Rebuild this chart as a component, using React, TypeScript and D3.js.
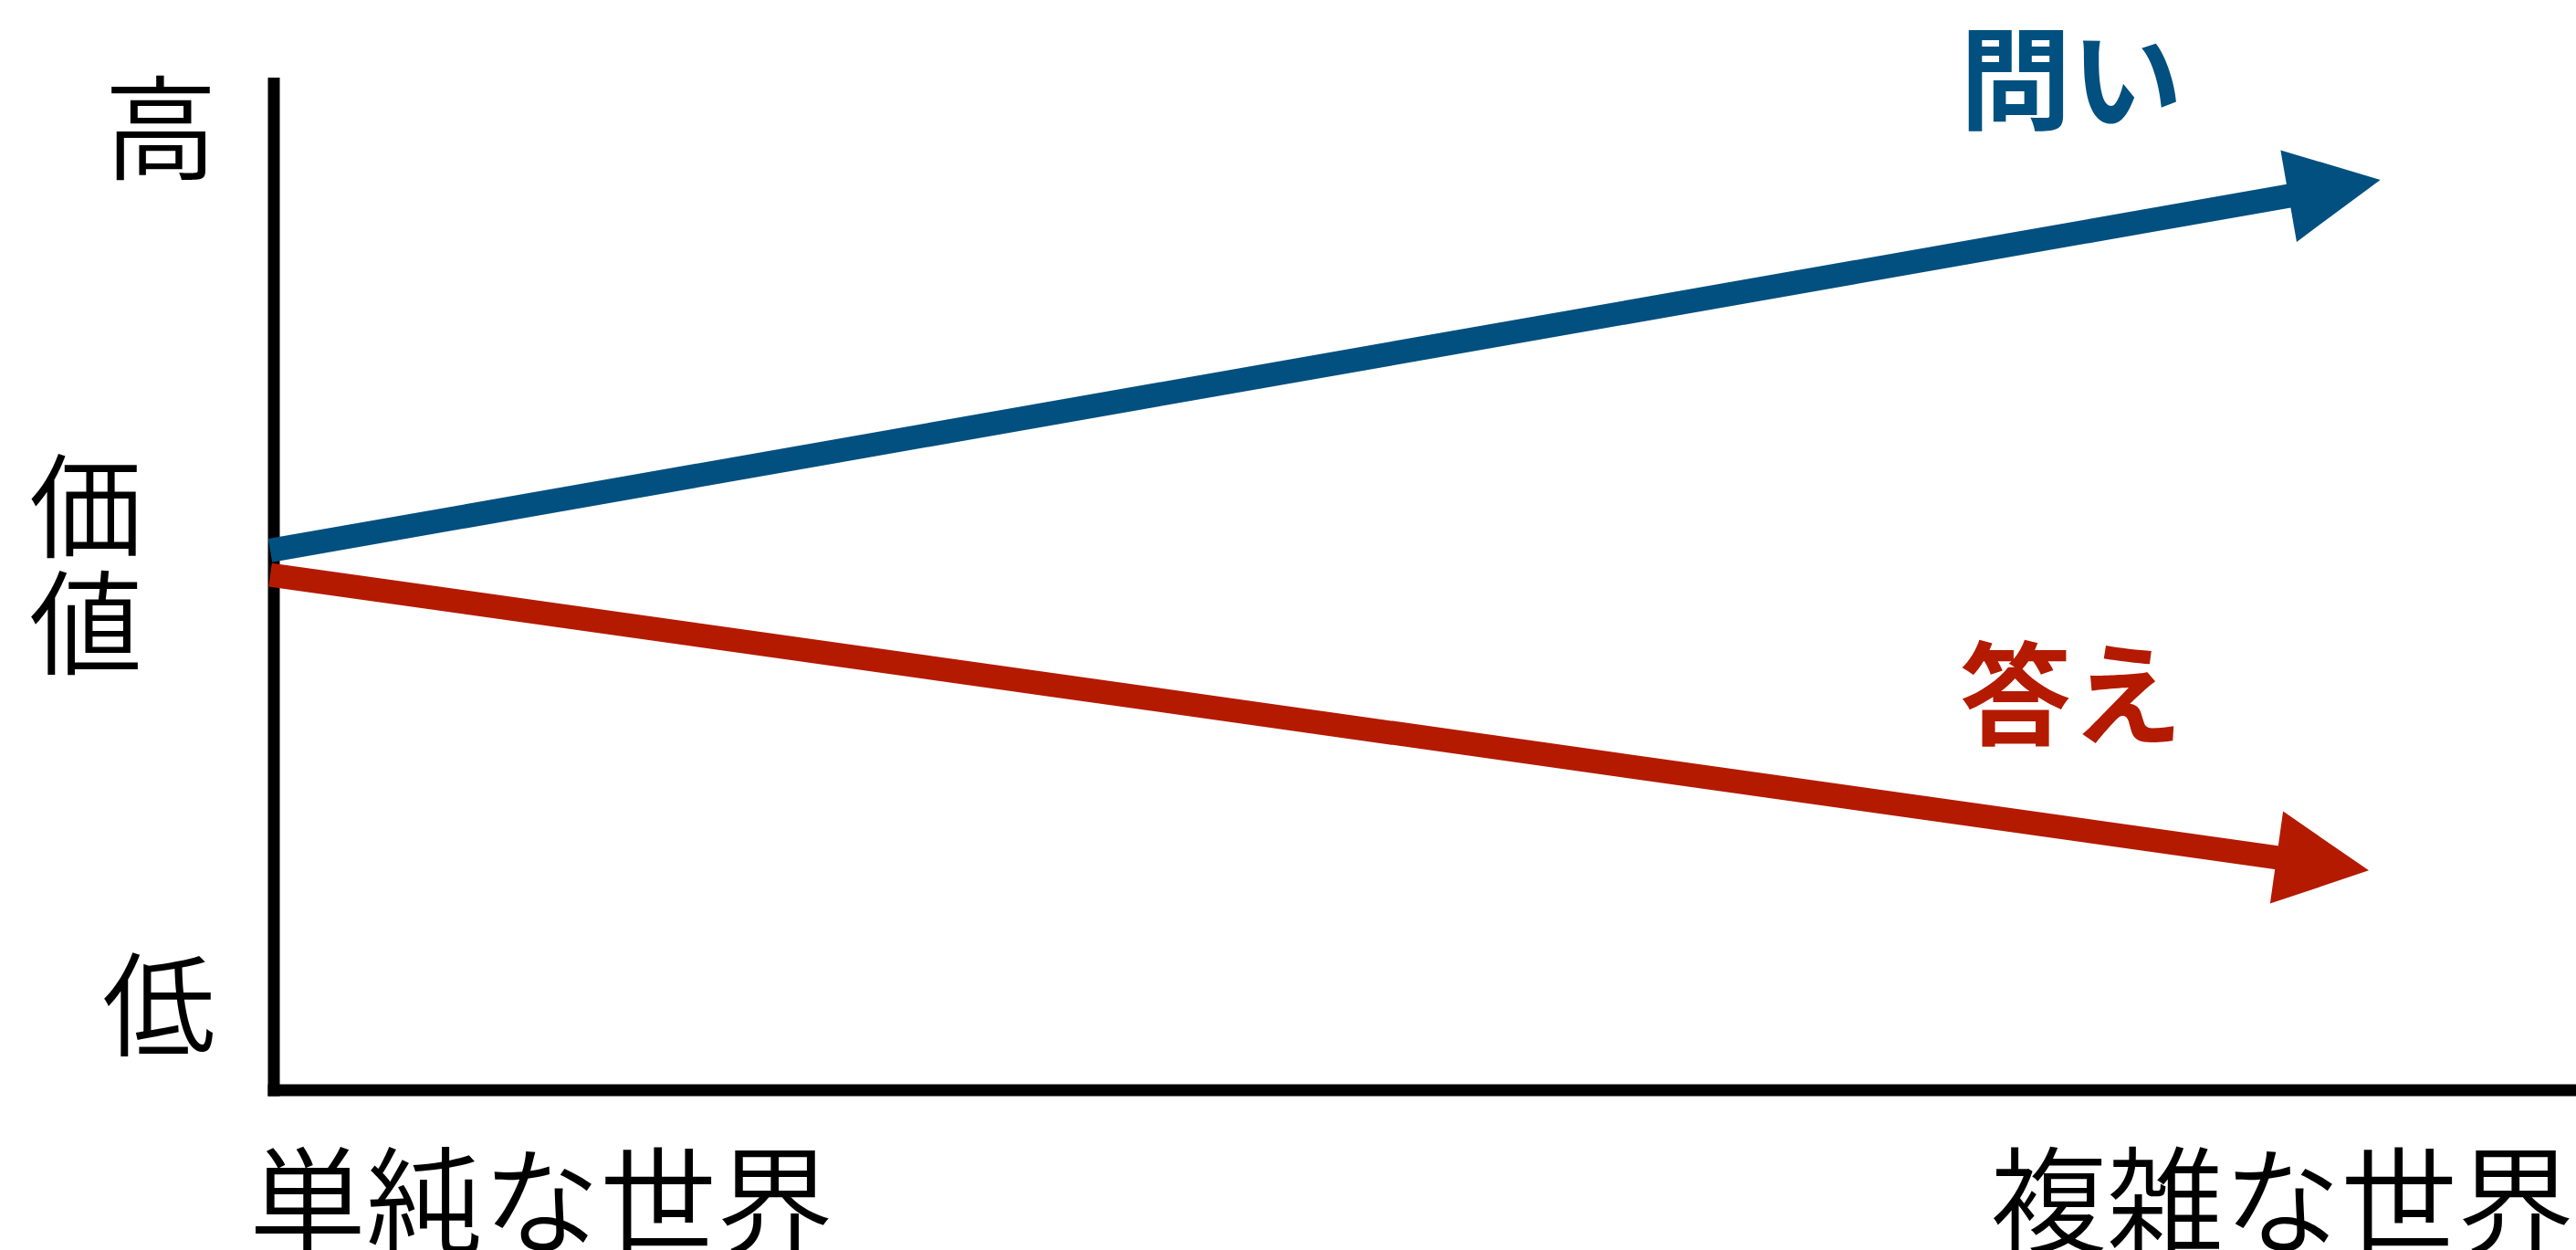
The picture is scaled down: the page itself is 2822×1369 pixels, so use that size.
import React from "react";
import * as d3 from "d3";

// ---- data ----
const yTickLabels = [
  { value: 100, label: "高" },
  { value: 50, label: "価値" },
  { value: 0, label: "低" },
];
const xCategoryLabels = ["単純な世界", "複雑な世界"];
const seriesNames = ["問い", "答え"];
const seriesStart = [53.3, 50.9]; // value at the simple end (x = 0)
const seriesEndX = [91.5, 91.0]; // arrow tip position along the axis
const seriesEnd = [89.9, 21.7]; // arrow tip value
const seriesColors = ["#02507F", "#B41A00"];

const W = 2822;
const H = 1369;
const FONT = "'Noto Sans CJK JP', 'Noto Sans CJK SC', sans-serif";

export default function App() {
  const x = d3.scaleLinear().domain([0, 100]).range([300, 2822]);
  const y = d3.scaleLinear().domain([0, 100]).range([1194, 85]);
  const axisW = 13;
  const lineW = 26;
  const headLen = 102;
  const headHalf = 51;
  const fs = 124;

  const arrows = seriesNames.map((name, i) => {
    const x0 = x(0) - 4;
    const y0 = y(seriesStart[i]);
    const tx = x(seriesEndX[i]);
    const ty = y(seriesEnd[i]);
    const dx = tx - x0;
    const dy = ty - y0;
    const len = Math.hypot(dx, dy);
    const ux = dx / len;
    const uy = dy / len;
    const nx = -uy;
    const ny = ux;
    const bx = tx - headLen * ux;
    const by = ty - headLen * uy;
    const line = d3.line()([
      [x0, y0],
      [bx + 3 * ux, by + 3 * uy],
    ]);
    const head =
      d3.line()([
        [tx, ty],
        [bx + headHalf * nx, by + headHalf * ny],
        [bx - headHalf * nx, by - headHalf * ny],
      ]) + "Z";
    return { name, line, head, color: seriesColors[i] };
  });

  // label positions
  const labelPos = [
    { x: 2147, y: 132 },
    { x: 2147, y: 806 },
  ];
  const midChars = Array.from(yTickLabels[1].label);

  return (
    <svg
      width={W}
      height={H}
      style={{ position: "absolute", left: 0, top: 0, display: "block", background: "#fff" }}
    >
      <rect x={0} y={0} width={W} height={H} fill="#fff" />
      {/* axes */}
      <line
        x1={x(0)}
        x2={x(0)}
        y1={y(100)}
        y2={y(0) + axisW / 2}
        stroke="#000"
        strokeWidth={axisW}
      />
      <line
        x1={x(0) - axisW / 2}
        x2={x(100)}
        y1={y(0)}
        y2={y(0)}
        stroke="#000"
        strokeWidth={axisW}
      />
      {/* arrows */}
      {arrows.map((a) => (
        <g key={a.name}>
          <path d={a.line ?? ""} stroke={a.color} strokeWidth={lineW} fill="none" />
          <path d={a.head} fill={a.color} />
        </g>
      ))}
      {/* series labels */}
      {arrows.map((a, i) => (
        <text
          key={"l" + a.name}
          x={labelPos[i].x}
          y={labelPos[i].y}
          fill={a.color}
          fontFamily={FONT}
          fontWeight={700}
          fontSize={122}
        >
          {a.name}
        </text>
      ))}
      {/* y labels */}
      <text x={176} y={187} textAnchor="middle" fontFamily={FONT} fontWeight={350} fontSize={fs}>
        {yTickLabels[0].label}
      </text>
      {midChars.map((ch, k) => (
        <text
          key={"m" + k}
          x={94}
          y={601 + k * 128}
          textAnchor="middle"
          fontFamily={FONT}
          fontWeight={350}
          fontSize={fs}
        >
          {ch}
        </text>
      ))}
      <text x={174} y={1147} textAnchor="middle" fontFamily={FONT} fontWeight={350} fontSize={fs}>
        {yTickLabels[2].label}
      </text>
      {/* x category labels */}
      <text x={273} y={1364} fontFamily={FONT} fontWeight={350} fontSize={128}>
        {xCategoryLabels[0]}
      </text>
      <text x={2820} y={1364} textAnchor="end" fontFamily={FONT} fontWeight={350} fontSize={128}>
        {xCategoryLabels[1]}
      </text>
    </svg>
  );
}
